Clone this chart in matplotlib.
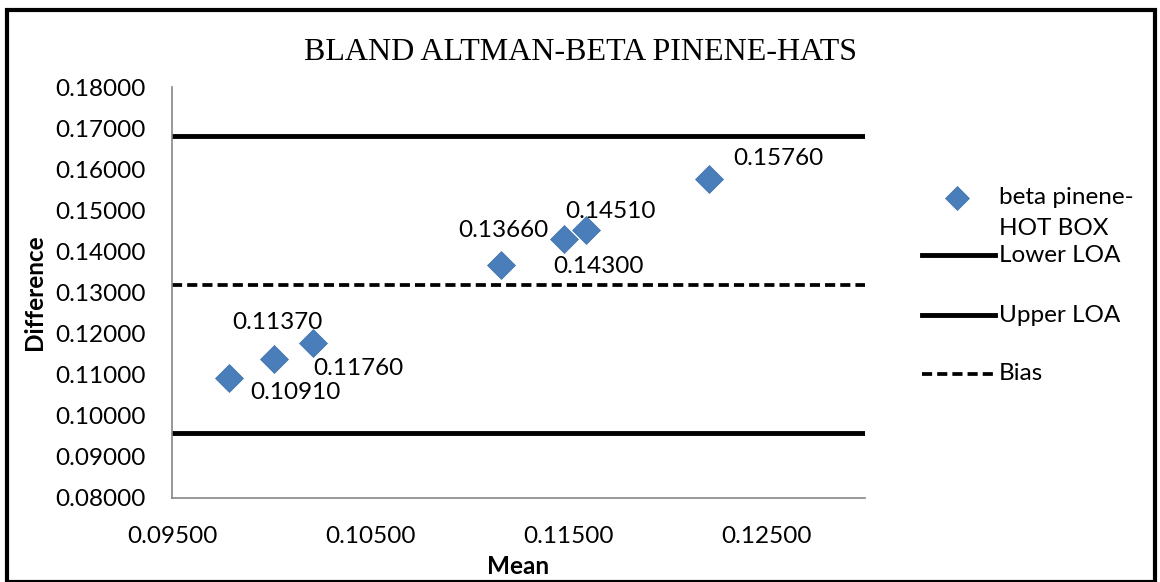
import matplotlib
matplotlib.use("Agg")
import matplotlib.pyplot as plt
from matplotlib.patches import Rectangle
from matplotlib.lines import Line2D

mean_vals = [0.09788, 0.10015, 0.10212, 0.11162, 0.11480, 0.11591, 0.12212]
diff_vals = [0.1091, 0.1137, 0.1176, 0.1366, 0.1430, 0.1451, 0.1576]
# label offsets in pixels (dx to left edge, dy to centre)
label_offsets = [(21, -14), (-42, 37), (0, -25), (-43, 35), (-11, -27), (-21, 19), (24, 21)]
lower_loa = 0.0957
upper_loa = 0.1680
bias = 0.1318
x_range = [0.095, 0.130]
x_ticks = [0.095, 0.105, 0.115, 0.125]
y_ticks = [0.08, 0.09, 0.10, 0.11, 0.12, 0.13, 0.14, 0.15, 0.16, 0.17, 0.18]
series_name = "beta pinene-\nHOT BOX"
line_names = ["Lower LOA", "Upper LOA", "Bias"]

FONT = "Lato"
FS = 17.5
W, H = 1160, 582
BLUE = "#4A7EBB"

fig = plt.figure(figsize=(11.6, 5.82), dpi=100)
ax = fig.add_axes([172/W, 1-498/H, (865-172)/W, (498-87)/H])

ax.plot(mean_vals, diff_vals, linestyle="none", marker="D", markersize=14,
        color=BLUE, markeredgecolor="#3F70A8", markeredgewidth=0.5, zorder=5)
line_styles = [dict(color="black", lw=3.5, ls="-"),
               dict(color="black", lw=3.5, ls="-"),
               dict(color="black", lw=2.7, ls=(0, (2.7, 1.35)))]
for val, st in zip([lower_loa, upper_loa, bias], line_styles):
    ax.plot(x_range, [val]*2, **st)

for xv, yv, off in zip(mean_vals, diff_vals, label_offsets):
    ax.annotate(f"{yv:.5f}", (xv, yv), xytext=(off[0]*0.72, off[1]*0.72),
                textcoords="offset points",
                ha="left", va="center", fontsize=FS, family=FONT)

ax.set_xlim(x_range)
ax.set_ylim(0.08, 0.18)
ax.set_xticks(x_ticks)
ax.set_xticklabels([f"{t:.5f}" for t in x_ticks], family=FONT, fontsize=FS)
ax.set_yticks(y_ticks)
ax.set_yticklabels([f"{t:.5f}" for t in y_ticks], family=FONT, fontsize=FS)
ax.tick_params(axis="y", length=0, pad=19)
ax.tick_params(axis="x", length=0, pad=20)
for s in ["top", "right"]:
    ax.spines[s].set_visible(False)
for s in ["left", "bottom"]:
    ax.spines[s].set_color("#868686")
    ax.spines[s].set_linewidth(1.2)

ax.set_xlabel("Mean", family=FONT, fontsize=FS, fontweight="bold")
ax.set_ylabel("Difference", family=FONT, fontsize=FS, fontweight="bold")
ax.xaxis.set_label_coords(0.5, (498-555)/411)
ax.yaxis.set_label_coords((46-172)/693, 0.5)

fig.text(0.5, 1-52/H, "BLAND ALTMAN-BETA PINENE-HATS", ha="center", va="center",
         family="Liberation Serif", fontsize=23)

# legend (manual, Excel-style layout)
fig.add_artist(Line2D([957/W], [1-198/H], marker="D", markersize=12, color=BLUE,
                      markeredgecolor="#3F70A8", markeredgewidth=0.5, linestyle="none"))
fig.text(999/W, 1-198/H, series_name.split("\n")[0], family=FONT, fontsize=FS,
         ha="left", va="center")
fig.text(999/W, 1-229/H, series_name.split("\n")[1], family=FONT, fontsize=FS,
         ha="left", va="center")
for name, st, yy in zip(line_names, line_styles, [255, 315, 374]):
    fig.add_artist(Line2D([922/W, 995/W], [1-yy/H]*2, **st))
    fig.text(999/W, 1-yy/H, name, family=FONT, fontsize=FS, ha="left", va="center")

fig.patches.append(Rectangle((7/W, 0), (1155-7)/W, 1-10/H,
                             transform=fig.transFigure, fill=False,
                             edgecolor="black", lw=3))

fig.savefig("out.png", dpi=100)
